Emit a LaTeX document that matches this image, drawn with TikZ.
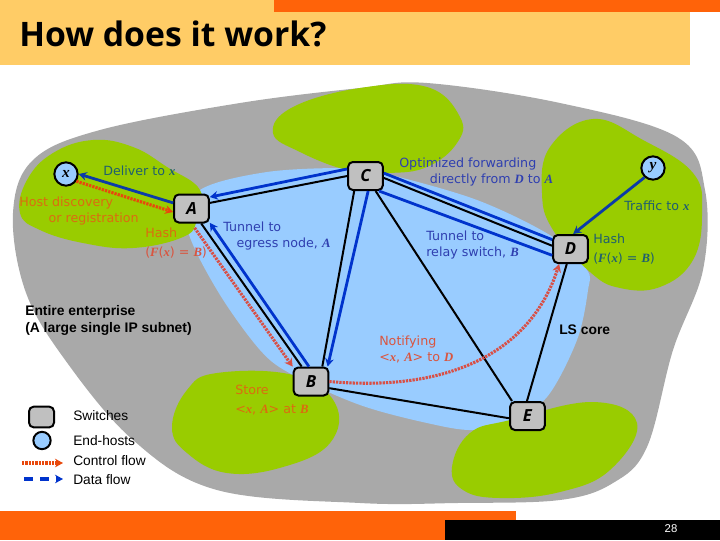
\documentclass[tikz,border=0pt]{standalone}
\usepackage{fontspec}
\setmainfont{DejaVu Sans}
\newfontfamily\arialfont{Liberation Sans}
\newfontfamily\timesfont{Liberation Serif}
\newfontfamily\headfont{Open Sans}
\usepackage{xcolor}
\usetikzlibrary{arrows.meta, positioning, calc}
\definecolor{grayblob}{HTML}{A9A9A9}
\definecolor{greenblob}{HTML}{99CC00}
\definecolor{blueblob}{HTML}{99CCFF}
\definecolor{boxgray}{HTML}{C0C0C0}
\definecolor{headgold}{HTML}{FFCC66}
\definecolor{footorange}{HTML}{FF6309}
\definecolor{dataflow}{HTML}{0033CC}
\definecolor{deepflow}{HTML}{0B3BA8}
\definecolor{ctrlred}{HTML}{D94F45}
\definecolor{ctrlorange}{HTML}{E8480C}
\definecolor{textblue}{HTML}{2F3FB0}
\definecolor{texttmpl}{HTML}{1F5F6F}
\definecolor{textorange}{HTML}{DB6C10}
\definecolor{textred}{HTML}{D9553F}
\newcommand{\mvar}[1]{{\timesfont\bfseries\itshape #1}}
\tikzset{
	switchbox/.style={rectangle, draw=black, line width=1.5pt, fill=boxgray, rounded corners=3.5pt, minimum width=26pt, minimum height=21pt, inner sep=0pt, font=\headfont\bfseries\itshape\fontsize{12.5}{13}\selectfont},
	hostdot/.style={circle, draw=black, line width=1.5pt, fill=blueblob, minimum size=17.5pt, inner sep=0pt, font=\timesfont\bfseries\itshape\fontsize{11.5}{11.5}\selectfont},
	linkline/.style={draw=black, line width=1.5pt},
	dataline/.style={draw=dataflow, line width=2.1pt},
	deepline/.style={draw=deepflow, line width=2.1pt},
	ctrlline/.style={draw=ctrlred, line width=2.3pt, dash pattern=on 1.7pt off 0.8pt},
	lbl/.style={font=\fontsize{9.5}{12}\selectfont, inner sep=0pt, anchor=west, align=left},
	arl/.style={font=\arialfont\fontsize{10.3}{12.75}\selectfont, inner sep=0pt, anchor=west, align=left},
	arb/.style={font=\arialfont\bfseries\fontsize{10.4}{12.75}\selectfont, inner sep=0pt, anchor=north west, align=left}
}
\begin{document}
\begin{tikzpicture}[x=0.75pt, y=-0.75pt, >={Stealth[length=6pt, width=6.5pt]}]
	\useasboundingbox (0,0) rectangle (720,540);
	
	% Header and footer bars
	\fill[headgold] (0,0) rectangle (690,65);
	\fill[footorange] (274,0) rectangle (720,12);
	\fill[footorange] (0,511) rectangle (516,540);
	\fill[black] (445,520) rectangle (720,540);
	\node[font=\headfont\bfseries\fontsize{25.3}{25}\selectfont, inner sep=0pt, anchor=base west] (title) at (19,46.5) {How does it work?};
	\node[font=\arialfont\fontsize{8.5}{8.5}\selectfont, text=white, inner sep=0pt] (pageno) at (671,529) {28};
	
	% Enterprise area
	\fill[grayblob] plot[smooth cycle, tension=0.6] coordinates {(13,213) (33,160) (100,130) (240,103) (360,88) (427,83) (560,103) (677,137) (705,190) (703,270) (673,350) (647,447) (613,483) (560,500) (457,503) (360,503) (217,490) (133,440) (63,357) (25,290)};
	
	% LS core
	\fill[blueblob] plot[smooth cycle, tension=0.55] coordinates {(200,190) (267,172) (347,168) (383,173) (477,200) (553,237) (587,270) (588,290) (577,340) (547,397) (510,420) (473,430) (427,423) (360,405) (293,375) (260,350) (217,290) (187,227)};
	
	% Green patches
	\fill[greenblob] plot[smooth cycle, tension=0.7] coordinates {(20,213) (27,180) (53,153) (93,140) (133,147) (167,167) (200,190) (197,220) (183,237) (133,248) (83,243) (40,230)};
	\fill[greenblob] plot[smooth cycle, tension=0.7] coordinates {(273,133) (293,107) (360,88) (427,87) (460,117) (457,143) (427,167) (387,173) (347,170) (300,152)};
	\fill[greenblob] plot[smooth cycle, tension=0.7] coordinates {(542,193) (550,147) (593,119) (643,140) (693,173) (702,213) (693,260) (660,287) (620,288) (590,272) (553,230)};
	\fill[greenblob] plot[smooth cycle, tension=0.7] coordinates {(172,427) (187,390) (217,373) (293,375) (335,403) (330,443) (283,467) (227,473) (187,453)};
	\fill[greenblob] plot[smooth cycle, tension=0.7] coordinates {(452,467) (470,433) (510,420) (593,402) (637,423) (610,470) (560,492) (500,498) (463,490)};
	
	% Switches and end-hosts
	\node[switchbox] (A) at (191.5,208.5) {A};
	\node[switchbox] (B) at (311,381.5) {B};
	\node[switchbox] (C) at (365.5,176) {C};
	\node[switchbox] (D) at (570.5,249) {D};
	\node[switchbox] (E) at (527.5,416) {E};
	\node[hostdot] (x) at (66,174) {x};
	\node[hostdot] (y) at (653,168) {y};
	
	% Links of the core
	\draw[linkline] (A.17) -- (C.180);
	\draw[linkline] (A.-57) -- (B.122);
	\draw[linkline] (C.-127) -- (B.53);
	\draw[linkline] (C.-6) -- (D.170);
	\draw[linkline] (C.-56) -- (E.136);
	\draw[linkline] (D.-104) -- (E.92);
	\draw[linkline] (B.-20) -- (E.-173);
	
	% Data flow
	\draw[dataline, ->] (C.159) -- (A.32);
	\draw[dataline] (D.153) -- (C.9);
	\draw[dataline] (D.-161) -- (C.-48);
	\draw[dataline, ->] (C.-80) -- (B.42);
	\draw[dataline, ->] (B.98) -- (A.-38);
	\draw[deepline, ->] (A.163) -- (x.east);
	\draw[deepline, ->] (y.-132) -- (D.80);
	
	% Control flow
	\draw[ctrlline, draw=ctrlorange, ->] (x.-35) -- (A.-169);
	\draw[ctrlline, shorten <=4pt, ->] (A.-90) -- (B.141);
	\draw[ctrlline, ->] (B.0) .. controls (445,392) and (530,355) .. (D.-127);
	
	% Labels
	\node[lbl, text=texttmpl] (deliver) at (103,171) {Deliver to \mvar{x}};
	\node[lbl, text=textorange, anchor=north west] (discovery) at (19,197) {Host discovery\\\hspace*{22pt}or registration};
	\node[lbl, text=textorange] (hashA) at (145,233) {Hash};
	\node[lbl, text=textred] (hashFA) at (145,253) {(\mvar{F}(\mvar{x}) = \mvar{B})};
	\node[lbl, text=textblue, anchor=north west] (tunnelA) at (223,222) {Tunnel to\\\hspace*{10pt}egress node, \mvar{A}};
	\node[lbl, text=textblue, anchor=north west] (optimized) at (399,158) {Optimized forwarding\\\hspace*{23pt}directly from \mvar{D} to \mvar{A}};
	\node[lbl, text=textblue, anchor=north west] (tunnelB) at (426,231) {Tunnel to\\relay switch, \mvar{B}};
	\node[lbl, text=texttmpl] (traffic) at (624,206) {Traffic to \mvar{x}};
	\node[lbl, text=texttmpl] (hashD) at (593,239) {Hash};
	\node[lbl, text=texttmpl] (hashFD) at (593,259) {(\mvar{F}(\mvar{x}) = \mvar{B})};
	\node[lbl, text=textred, anchor=north west] (notify) at (379,336) {Notifying\\<\mvar{x}, \mvar{A}> to \mvar{D}};
	\node[lbl, text=textorange] (store) at (235,390) {Store};
	\node[lbl, text=textorange] (storeval) at (235,410) {<\mvar{x}, \mvar{A}> at \mvar{B}};
	\node[arb] (enterprise) at (25,305) {Entire enterprise\\(A large single IP subnet)};
	\node[arb, anchor=west] (lscore) at (559,330) {LS core};
	
	% Legend
	\node[switchbox, minimum width=18.75pt, minimum height=15.5pt] (legswitch) at (41.5,417) {};
	\node[hostdot, minimum size=13pt] (leghost) at (42,440.5) {};
	\node[arl] (switches) at (73,416) {Switches};
	\node[arl] (hosts) at (73,441) {End-hosts};
	\node[arl] (control) at (73,461) {Control flow};
	\node[arl] (data) at (73,480) {Data flow};
	\coordinate (ctrlfrom) at (22,463);
	\coordinate (ctrlto) at (63,463);
	\coordinate (datafrom) at (24,479);
	\coordinate (datato) at (63,479);
	\draw[ctrlline, draw=ctrlorange, ->] (ctrlfrom) -- (ctrlto);
	\draw[draw=dataflow, line width=2.4pt, dash pattern=on 7pt off 5pt, ->] (datafrom) -- (datato);
\end{tikzpicture}
\end{document}
